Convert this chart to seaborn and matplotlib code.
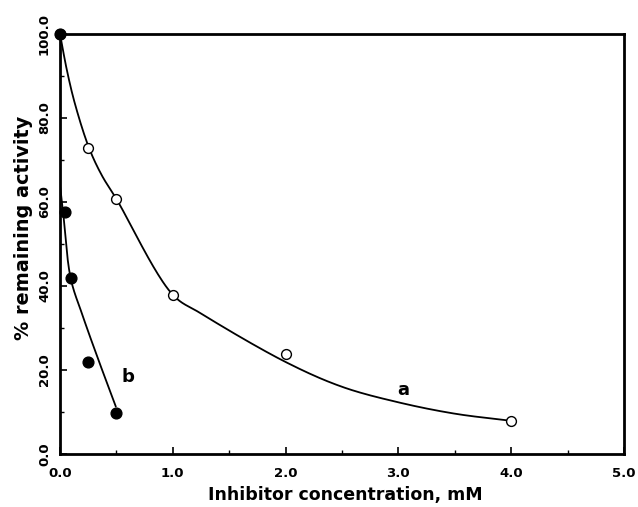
import numpy as np
import matplotlib
matplotlib.use("Agg")
import matplotlib.pyplot as plt
import seaborn as sns
import pandas as pd
from matplotlib.ticker import MultipleLocator, FormatStrFormatter

# measured points
conc_a = [0.0, 0.25, 0.5, 1.0, 2.0, 4.0]
act_a = [100.0, 72.8, 60.7, 37.9, 23.8, 7.9]
conc_b = [0.0, 0.045, 0.095, 0.246, 0.5]
act_b = [100.0, 57.7, 41.8, 22.0, 9.7]
# fitted curves (guide points)
curve_a_x = [0.0, 0.06, 0.133, 0.258, 0.371, 0.5, 1.0, 1.246, 2.0, 2.5, 3.0, 3.5, 4.0]
curve_a_y = [100.0, 91.5, 83.3, 72.8, 66.3, 60.7, 37.9, 33.5, 21.9, 16.0, 12.3, 9.6, 7.9]
curve_b_x = [0.0, 0.027, 0.095, 0.2, 0.356, 0.495]
curve_b_y = [64.0, 57.7, 41.8, 33.0, 21.3, 11.3]
curve_label_a = "a"
curve_label_b = "b"
xticks = [0.0, 1.0, 2.0, 3.0, 4.0, 5.0]
yticks = [0.0, 20.0, 40.0, 60.0, 80.0, 100.0]


def catmull_rom(x, y, sx=112.4, sy=4.2, n=40, alpha=0.5):
    P = np.column_stack([np.asarray(x, float) * sx, np.asarray(y, float) * sy])
    P = np.vstack([2 * P[0] - P[1], P, 2 * P[-1] - P[-2]])
    out = []
    for i in range(1, len(P) - 2):
        p0, p1, p2, p3 = P[i - 1], P[i], P[i + 1], P[i + 2]
        t0 = 0.0
        t1 = t0 + np.linalg.norm(p1 - p0) ** alpha
        t2 = t1 + np.linalg.norm(p2 - p1) ** alpha
        t3 = t2 + np.linalg.norm(p3 - p2) ** alpha
        t = np.linspace(t1, t2, n)[:, None]
        A1 = (t1 - t) / (t1 - t0) * p0 + (t - t0) / (t1 - t0) * p1
        A2 = (t2 - t) / (t2 - t1) * p1 + (t - t1) / (t2 - t1) * p2
        A3 = (t3 - t) / (t3 - t2) * p2 + (t - t2) / (t3 - t2) * p3
        B1 = (t2 - t) / (t2 - t0) * A1 + (t - t0) / (t2 - t0) * A2
        B2 = (t3 - t) / (t3 - t1) * A2 + (t - t1) / (t3 - t1) * A3
        C = (t2 - t) / (t2 - t1) * B1 + (t - t1) / (t2 - t1) * B2
        out.append(C if i == 1 else C[1:])
    C = np.vstack(out)
    return C[:, 0] / sx, C[:, 1] / sy


sns.set_style("ticks")
plt.rcParams["font.family"] = ["DejaVu Sans"]
for key in ["text.color", "axes.labelcolor", "xtick.color", "ytick.color", "axes.edgecolor"]:
    plt.rcParams[key] = "black"

fig = plt.figure(figsize=(6.38, 5.07), dpi=100)
ax = fig.add_axes([0.094, 0.1045, 0.884, 0.829])

xa, ya = catmull_rom(curve_a_x, curve_a_y)
xb, yb = catmull_rom(curve_b_x, curve_b_y)
df_a = pd.DataFrame({"x": xa, "y": ya})
df_b = pd.DataFrame({"x": xb, "y": yb})
sns.lineplot(data=df_a, x="x", y="y", ax=ax, color="black", lw=1.3, sort=False, estimator=None)
sns.lineplot(data=df_b, x="x", y="y", ax=ax, color="black", lw=1.3, sort=False, estimator=None)

sns.scatterplot(x=conc_a, y=act_a, ax=ax, marker="o", s=50, facecolor="white",
                edgecolor="black", linewidth=1.0, zorder=5, clip_on=False)
sns.scatterplot(x=conc_b, y=act_b, ax=ax, marker="o", s=60, color="black",
                edgecolor="black", linewidth=1.0, zorder=6, clip_on=False)

ax.text(3.04, 15.2, curve_label_a, fontsize=13, fontweight="bold", ha="center", va="center")
ax.text(0.605, 18.3, curve_label_b, fontsize=13, fontweight="bold", ha="center", va="center")

ax.set_xlim(0, 5)
ax.set_ylim(0, 100)
ax.set_xticks(xticks)
ax.set_yticks(yticks)
ax.xaxis.set_minor_locator(MultipleLocator(0.5))
ax.yaxis.set_minor_locator(MultipleLocator(10))
ax.xaxis.set_major_formatter(FormatStrFormatter("%.1f"))
ax.yaxis.set_major_formatter(FormatStrFormatter("%.1f"))
ax.tick_params(which="both", direction="in", colors="black", labelsize=9.5)
ax.tick_params(which="major", length=5, width=1.2)
ax.tick_params(which="minor", length=3, width=1.0)
ax.tick_params(axis="x", which="major", pad=9.5)
ax.tick_params(axis="y", which="major", pad=6.5)
for lab in ax.get_xticklabels() + ax.get_yticklabels():
    lab.set_fontweight("bold")
for lab in ax.get_yticklabels():
    lab.set_rotation(90)
    lab.set_va("center")
for sp in ax.spines.values():
    sp.set_linewidth(2.0)
    sp.set_color("black")
    sp.set_visible(True)

ax.set_xlabel("Inhibitor concentration, mM", fontsize=12.5, fontweight="bold")
ax.set_ylabel("% remaining activity", fontsize=13.9, fontweight="bold")
ax.xaxis.label.set_va("baseline")
ax.xaxis.set_label_coords(0.506, -0.1095)
ax.yaxis.label.set_va("center")
ax.yaxis.set_label_coords(-0.0647, 0.539)
ax.set_facecolor("white")
fig.patch.set_facecolor("white")

fig.savefig("out.png", dpi=100)
